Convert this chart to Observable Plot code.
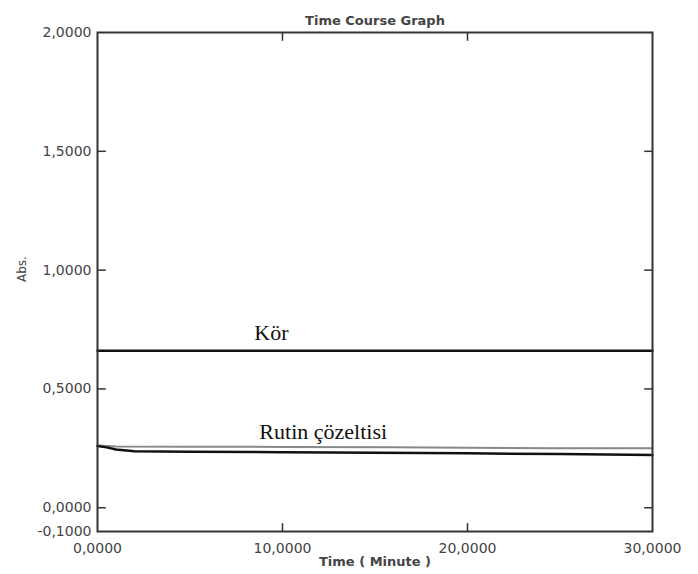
<!DOCTYPE html>
<html>
<head>
<meta charset="utf-8">
<script src="https://cdn.jsdelivr.net/npm/d3@7"></script>
<script src="https://cdn.jsdelivr.net/npm/@observablehq/plot@0.6"></script>
<style>
  html, body { margin: 0; padding: 0; background: #fff; }
  #chart svg { display: block; }
</style>
</head>
<body>
<div id="chart"></div>
<script>
const title = "Time Course Graph";
const xLabel = "Time ( Minute )";
const yLabel = "Abs.";
const xTicks = [0, 10, 20, 30];
const yTicks = [-0.1, 0, 0.5, 1, 1.5, 2];

// Kör (blank)
const korTime = [0, 5, 10, 15, 20, 25, 30];
const korAbs  = [0.661, 0.661, 0.661, 0.661, 0.661, 0.661, 0.661];

// Rutin çözeltisi - lower (black) trace
const rutinTime = [0, 0.5, 1, 2, 5, 10, 15, 20, 25, 30];
const rutinAbs  = [0.260, 0.254, 0.245, 0.238, 0.236, 0.234, 0.231, 0.229, 0.226, 0.222];

// Rutin çözeltisi - upper (gray) trace
const rutin2Time = [0, 1, 5, 10, 16, 20, 25, 30];
const rutin2Abs  = [0.262, 0.258, 0.257, 0.256, 0.255, 0.252, 0.250, 0.250];

const labels = [
  {x: 9.4, y: 0.735, text: "Kör"},
  {x: 12.2, y: 0.318, text: "Rutin çözeltisi"}
];

const kor = korTime.map((t, i) => ({t, a: korAbs[i]}));
const rutin = rutinTime.map((t, i) => ({t, a: rutinAbs[i]}));
const rutin2 = rutin2Time.map((t, i) => ({t, a: rutin2Abs[i]}));

const fmt = v => d3.format(".4f")(v).replace(".", ",").replace("\u2212", "-");
const xTickLen = 0.45;   // in x units (inward tick length)
const yTickLen = 0.035;  // in y units

const innerY = yTicks.filter(v => v > -0.1 && v < 2);
const innerX = xTicks.filter(v => v > 0 && v < 30);

const tickLinks = [
  ...innerY.map(v => ({x1: 0, x2: xTickLen, y1: v, y2: v})),
  ...innerY.map(v => ({x1: 30, x2: 30 - xTickLen, y1: v, y2: v})),
  ...innerX.map(v => ({x1: v, x2: v, y1: -0.1, y2: -0.1 + yTickLen})),
  ...innerX.map(v => ({x1: v, x2: v, y1: 2, y2: 2 - yTickLen}))
];

const sans = "DejaVu Sans, Verdana, sans-serif";
const textColor = "#444";

const chart = Plot.plot({
  width: 698,
  height: 574,
  marginLeft: 97,
  marginRight: 46,
  marginTop: 32,
  marginBottom: 43,
  style: {fontFamily: sans, fontSize: "14px", color: textColor, background: "#fff"},
  x: {domain: [0, 30], ticks: xTicks, tickFormat: fmt, label: null},
  y: {domain: [-0.1, 2], ticks: yTicks, tickFormat: fmt, label: null},
  marks: [
    Plot.axisX({ticks: xTicks, tickFormat: fmt, tickSize: 0, tickPadding: 12, fontSize: 14, fill: textColor, label: null}),
    Plot.axisY({ticks: yTicks, tickFormat: fmt, tickSize: 0, tickPadding: 6, fontSize: 14, fill: textColor, label: null}),
    Plot.link(tickLinks, {x1: "x1", x2: "x2", y1: "y1", y2: "y2", stroke: "#333", strokeWidth: 1.5}),
    Plot.line(rutin2, {x: "t", y: "a", stroke: "#888", strokeWidth: 2}),
    Plot.line(rutin, {x: "t", y: "a", stroke: "#111", strokeWidth: 2.5}),
    Plot.line(kor, {x: "t", y: "a", stroke: "#111", strokeWidth: 2.5}),
    Plot.text(labels, {x: "x", y: "y", text: "text", fontFamily: "Liberation Serif, Times New Roman, serif", fontSize: 22, fill: "#111"}),
    Plot.frame({stroke: "#333", strokeWidth: 2}),
    Plot.text([title], {frameAnchor: "top", dy: -17, fontSize: 13, fill: textColor, fontWeight: "bold"}),
    Plot.text([xLabel], {frameAnchor: "bottom", dy: 34, fontSize: 13, fill: textColor, fontWeight: "bold"}),
    Plot.text([yLabel], {frameAnchor: "left", dx: -75, rotate: -90, fontSize: 12, fill: textColor})
  ]
});
document.getElementById("chart").append(chart);
</script>
</body>
</html>
